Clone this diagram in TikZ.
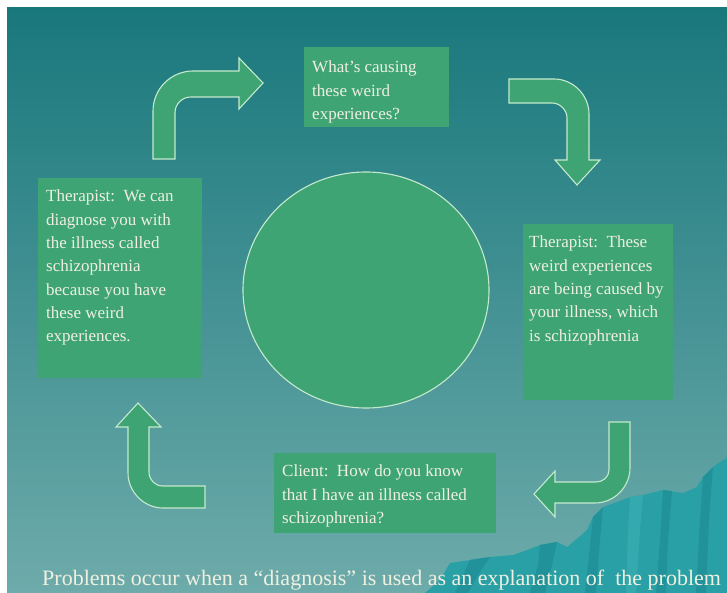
\documentclass[tikz,border=0pt]{standalone}
\usepackage{fontspec}
\setmainfont{Liberation Serif}
\usetikzlibrary{shapes.geometric}
\definecolor{bgtop}{RGB}{25,120,124}
\definecolor{bgbot}{RGB}{110,171,171}
\definecolor{boxgreen}{RGB}{62,164,116}
\definecolor{edgecol}{RGB}{196,234,205}
\definecolor{txtcol}{RGB}{240,240,224}
\definecolor{mount}{RGB}{40,160,166}
\definecolor{mountdark}{RGB}{33,146,154}
\definecolor{mountlight}{RGB}{52,170,174}
\begin{document}
\begin{tikzpicture}[x=1pt,y=-1pt,
  panel/.style={fill=boxgreen, draw=none, inner sep=0pt, anchor=north west},
  bent/.style={fill=boxgreen, draw=edgecol, line width=1.1pt, line join=miter},
  say/.style={anchor=north west, inner sep=0pt, align=left, text=txtcol,
    font=\fontsize{17}{23.3}\selectfont},
  caption/.style={anchor=base west, inner sep=0pt, text=txtcol,
    font=\fontsize{22}{26}\selectfont},
]
\useasboundingbox (0,0) rectangle (727,593);
\fill[white] (0,0) rectangle (727,593);
\shade[top color=bgtop, bottom color=bgbot] (7,8) rectangle (727,593);

% mountain
\fill[mount] (425,593) -- (440,580) -- (450,563) -- (470,560) -- (490,557)
  -- (513,555) -- (530,549) -- (540,545) -- (557,542) -- (567,547) -- (578,538)
  -- (587,530) -- (593,517) -- (603,507) -- (617,502) -- (630,497) -- (643,495)
  -- (663,490) -- (683,493) -- (697,487) -- (703,477) -- (713,467) -- (723,460)
  -- (727,458) -- (727,593) -- cycle;
\fill[mountdark] (540,545) -- (557,542) -- (552,565) -- (545,593) -- (530,593) -- (538,565) -- cycle;
\fill[mountdark] (593,517) -- (603,507) -- (600,540) -- (596,593) -- (585,593) -- (590,545) -- cycle;
\fill[mountlight] (630,497) -- (643,495) -- (640,530) -- (636,593) -- (626,593) -- (628,530) -- cycle;
\fill[mountdark] (663,490) -- (672,491) -- (668,540) -- (666,593) -- (656,593) -- (660,540) -- cycle;
\fill[mountdark] (703,477) -- (713,467) -- (709,520) -- (706,593) -- (696,593) -- (700,520) -- cycle;
\fill[mountdark] (470,560) -- (490,557) -- (478,575) -- (468,593) -- (455,593) -- (463,575) -- cycle;

% boxes
\node[panel, minimum width=145, minimum height=80] (q) at (304,47) {};
\node[panel, minimum width=164, minimum height=200] (diag) at (38,178) {};
\node[panel, minimum width=150, minimum height=176] (cause) at (523,224) {};
\node[panel, minimum width=222, minimum height=80] (client) at (274,453) {};

% centre circle
\node[ellipse, fill=boxgreen, draw=edgecol, line width=1.1pt,
  minimum width=246, minimum height=236, inner sep=0pt] (hub) at (366,290) {};

% texts
\node[say] (qt) at (312,61) {What’s causing\\these weird\\experiences?};
\node[say] (diagt) at (46,190) {Therapist:\ \ We can\\diagnose you with\\the illness called\\schizophrenia\\because you have\\these weird\\experiences.};
\node[say] (causet) at (529,236) {Therapist:\ \ These\\weird experiences\\are being caused by\\your illness, which\\is schizophrenia};
\node[say] (clientt) at (282,465) {Client:\ \ How do you know\\that I have an illness called\\schizophrenia?};

% bent arrows
\draw[bent] (153,159) -- (153,111) .. controls (153,89) and (171,71) .. (193,71)
  -- (239,71) -- (239,58) -- (263,83) -- (239,109) -- (239,97) -- (191,97)
  .. controls (182,97) and (175,104) .. (175,113) -- (175,159) -- cycle;
\draw[bent] (509,79) -- (554,79) .. controls (573,79) and (589,95) .. (589,114)
  -- (589,160) -- (600,160) -- (577,185) -- (555,160) -- (567,160) -- (567,118)
  .. controls (567,110) and (560,103) .. (552,103) -- (509,103) -- cycle;
\draw[bent] (630,422) -- (630,468) .. controls (630,487) and (614,503) .. (595,503)
  -- (555,503) -- (555,517) -- (534,494) -- (555,471) -- (555,482) -- (596,482)
  .. controls (603,482) and (609,477) .. (609,470) -- (609,422) -- cycle;
\draw[bent] (205,486) -- (163,486) .. controls (155,486) and (149,480) .. (149,472)
  -- (149,427) -- (161,427) -- (138,403) -- (116,427) -- (128,427) -- (128,473)
  .. controls (128,492) and (144,508) .. (163,508) -- (205,508) -- cycle;

% caption
\node[caption] (cap) at (42,585) {Problems occur when a “diagnosis” is used as an explanation of\ \ the problem};
\end{tikzpicture}
\end{document}
